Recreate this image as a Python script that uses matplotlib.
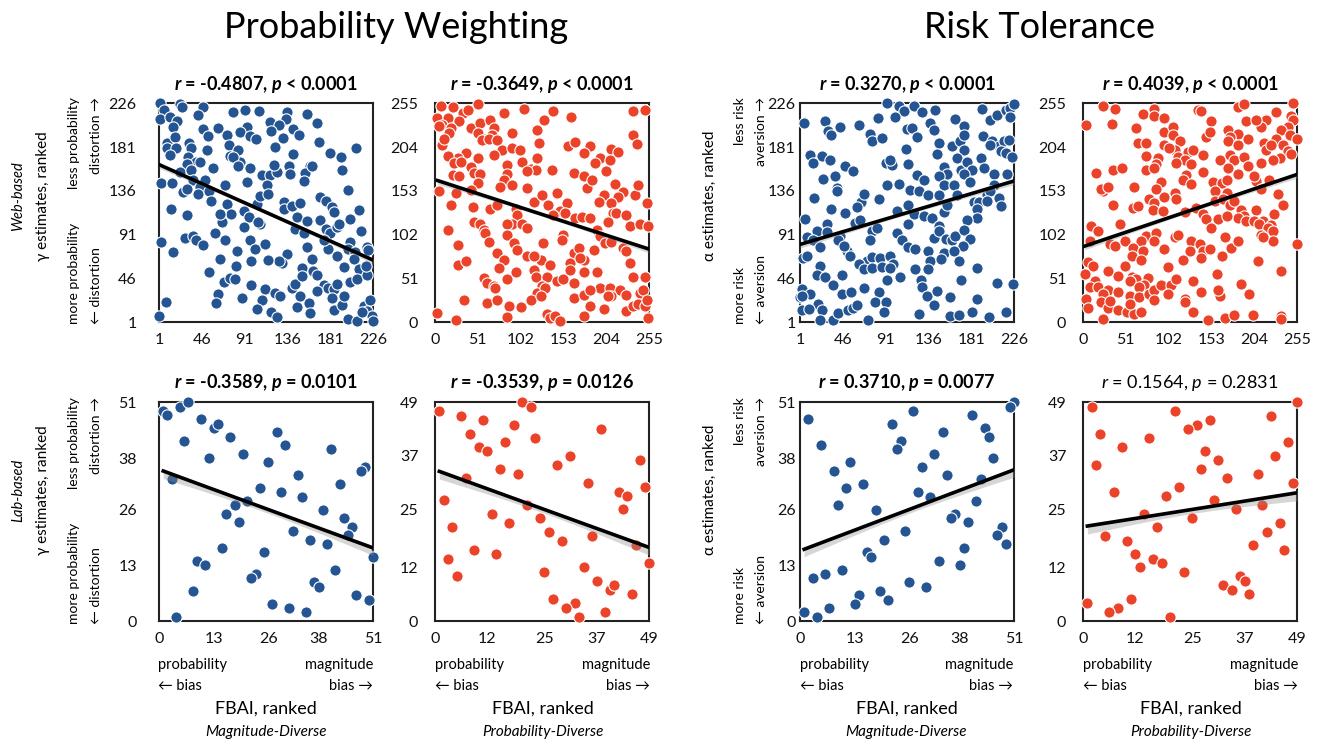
import numpy as np
import matplotlib
matplotlib.use("Agg")
import matplotlib.pyplot as plt

plt.rcParams["font.family"] = ["Lato", "DejaVu Sans"]
plt.rcParams["mathtext.fontset"] = "custom"
plt.rcParams["mathtext.rm"] = "Lato"
plt.rcParams["mathtext.it"] = "Lato:italic"
plt.rcParams["mathtext.bf"] = "Lato:bold"
try:
    plt.rcParams["mathtext.bfit"] = "Lato:bold:italic"
except KeyError:
    pass

BLUE = "#245592"
RED = "#ea4329"

# ranked data, (FBAI rank, estimate rank)
web_pw_mag = [(2,226),(6,219),(23,225),(25,222),(47,222),(42,214),(2,210),(12,212),(20,208),(16,202),(79,217),(91,219),(106,218),(135,217),(156,215),(167,206),(134,210),(118,207),(127,204),(119,198),(93,202),(86,197),(47,200),(63,201),(72,194),(52,192),(142,200),(148,193),(97,192),(103,189),(9,185),(18,191),(9,180),(19,180),(13,173),(32,185),(35,180),(31,171),(40,166),(44,166),(30,164),(51,178),(74,183),(76,172),(84,178),(86,166),(97,160),(79,171),(84,162),(123,181),(131,190),(142,174),(169,186),(181,175),(192,171),(208,180),(193,157),(160,162),(3,144),(15,144),(23,155),(35,157),(37,147),(26,135),(30,138),(44,140),(42,133),(58,160),(70,142),(93,145),(109,152),(118,152),(125,155),(122,163),(138,162),(139,153),(154,154),(153,146),(162,162),(200,137),(54,136),(49,147),(14,117),(30,111),(56,126),(72,123),(77,112),(67,104),(65,112),(90,115),(95,109),(104,123),(107,131),(114,142),(116,133),(132,125),(132,117),(141,120),(149,124),(170,130),(176,126),(183,119),(185,114),(146,109),(156,105),(170,106),(107,102),(105,104),(90,99),(202,107),(211,116),(3,83),(28,88),(37,90),(40,86),(47,80),(60,93),(70,85),(83,74),(97,86),(102,76),(112,81),(144,97),(153,93),(156,78),(176,97),(181,93),(188,99),(190,102),(202,83),(213,95),(178,76),(188,69),(200,76),(207,73),(220,78),(221,75),(135,71),(130,62),(127,64),(115,65),(98,64),(82,59),(65,66),(162,66),(174,86),(16,73),(54,53),(69,42),(76,46),(81,45),(98,39),(112,35),(123,31),(128,28),(141,36),(144,40),(151,57),(151,48),(163,54),(167,50),(174,39),(178,36),(185,35),(188,40),(195,58),(206,66),(211,56),(202,42),(209,45),(220,50),(218,59),(63,30),(61,21),(88,26),(109,24),(8,22),(1,7),(104,15),(119,11),(125,6),(146,17),(149,28),(159,21),(160,10),(167,33),(185,14),(193,19),(195,28),(199,4),(209,2),(216,18),(223,24),(220,12),(225,7),(226,2),(214,11),(183,26)]

web_pw_prob = [(7,252),(21,251),(33,244),(39,247),(51,254),(3,238),(15,238),(29,234),(9,230),(5,229),(19,226),(43,226),(54,232),(66,236),(70,226),(82,244),(106,248),(141,246),(130,236),(122,224),(162,239),(236,246),(250,247),(17,220),(9,207),(11,214),(51,220),(60,214),(68,218),(56,212),(64,213),(92,221),(74,212),(80,201),(92,203),(101,201),(70,195),(51,191),(37,197),(27,191),(15,194),(23,185),(31,187),(124,209),(122,191),(159,205),(167,210),(185,205),(177,197),(210,202),(218,198),(236,218),(240,208),(197,191),(191,185),(208,189),(21,172),(29,170),(43,181),(47,174),(54,173),(51,162),(86,183),(86,173),(82,166),(104,187),(114,179),(120,177),(110,176),(92,160),(78,158),(139,177),(165,174),(177,170),(181,156),(187,166),(204,176),(214,161),(238,148),(242,160),(224,152),(218,146),(201,148),(5,153),(25,150),(43,154),(110,156),(19,136),(45,134),(66,132),(74,137),(96,132),(98,125),(92,115),(104,114),(118,140),(127,148),(135,136),(145,150),(149,129),(157,139),(155,127),(167,121),(175,123),(185,121),(195,140),(210,139),(212,127),(206,117),(216,127),(228,125),(232,112),(244,115),(254,112),(252,139),(47,117),(54,114),(58,108),(86,114),(141,125),(15,107),(27,90),(60,104),(64,94),(86,102),(94,92),(98,84),(110,77),(110,110),(129,92),(126,73),(153,102),(151,96),(165,81),(171,86),(177,73),(189,84),(193,108),(197,100),(202,92),(210,94),(224,86),(228,83),(232,69),(236,53),(250,53),(27,67),(37,71),(74,81),(82,72),(118,77),(137,67),(161,69),(173,75),(76,63),(58,52),(62,46),(70,42),(72,40),(86,50),(96,58),(118,61),(120,53),(133,53),(145,48),(127,42),(153,50),(161,61),(165,46),(177,59),(193,59),(197,40),(208,40),(220,38),(228,32),(244,34),(248,38),(122,34),(131,40),(165,28),(177,32),(185,38),(210,30),(35,26),(62,22),(74,26),(88,19),(86,6),(102,18),(114,26),(126,30),(133,9),(137,5),(143,7),(149,1),(185,19),(177,7),(201,15),(206,30),(228,13),(236,19),(242,21),(250,19),(254,5),(3,11),(25,2),(252,26)]

web_rt_mag = [(92,226),(105,223),(110,218),(121,223),(129,217),(143,219),(101,212),(5,206),(27,208),(43,202),(63,204),(83,211),(113,200),(119,201),(138,206),(142,199),(164,210),(173,203),(192,220),(201,209),(208,214),(217,219),(222,221),(226,225),(222,212),(31,198),(34,194),(75,195),(77,187),(87,190),(124,191),(147,185),(161,182),(169,187),(173,194),(193,192),(203,187),(210,182),(215,187),(221,188),(112,179),(145,174),(173,178),(191,170),(201,183),(212,177),(217,175),(224,171),(12,173),(24,172),(33,168),(15,165),(48,162),(57,156),(91,165),(98,163),(96,168),(115,164),(152,161),(156,153),(166,170),(170,158),(177,166),(182,158),(194,160),(25,148),(38,151),(40,139),(40,136),(68,132),(92,142),(105,143),(124,152),(131,147),(147,151),(152,142),(163,142),(173,153),(180,145),(205,153),(219,153),(205,142),(117,137),(126,136),(136,132),(147,132),(166,132),(198,132),(201,136),(210,129),(16,129),(34,117),(48,113),(65,125),(61,119),(84,128),(103,115),(115,121),(121,112),(131,110),(140,108),(152,114),(156,122),(184,125),(189,125),(198,126),(212,120),(187,117),(187,108),(177,106),(147,100),(68,133),(6,107),(19,95),(29,102),(29,94),(59,103),(64,106),(43,90),(77,95),(82,98),(115,102),(8,89),(15,85),(22,78),(41,86),(75,85),(103,93),(108,85),(114,78),(122,76),(136,74),(142,88),(147,95),(154,87),(161,85),(164,90),(173,96),(180,87),(172,79),(152,72),(163,74),(4,67),(8,69),(50,74),(54,69),(47,79),(71,64),(77,68),(85,67),(96,69),(99,61),(138,64),(149,66),(168,64),(22,59),(19,49),(27,47),(45,49),(63,61),(68,56),(77,57),(87,58),(96,57),(92,44),(106,47),(122,56),(136,56),(128,44),(129,37),(135,28),(145,33),(159,27),(170,44),(187,57),(208,41),(225,40),(36,39),(45,30),(55,32),(68,36),(84,32),(3,35),(12,30),(1,27),(3,28),(20,20),(3,13),(10,15),(24,13),(36,3),(41,10),(52,13),(57,16),(61,19),(72,3),(80,22),(91,22),(89,11),(126,9),(142,19),(159,7),(168,8),(182,11),(187,25),(200,6),(217,11),(22,3)]

web_rt_prob = [(24,252),(38,248),(3,230),(34,231),(71,243),(85,248),(85,240),(97,238),(137,247),(141,246),(153,235),(185,251),(192,254),(230,245),(250,255),(248,240),(250,236),(218,236),(212,228),(194,234),(206,236),(63,226),(97,222),(107,228),(107,218),(173,224),(184,219),(244,228),(236,224),(246,218),(255,214),(147,216),(151,222),(175,216),(173,211),(196,213),(216,209),(230,214),(218,201),(224,207),(238,207),(244,199),(248,196),(234,191),(226,189),(65,209),(75,209),(97,207),(115,211),(109,201),(113,193),(125,198),(131,201),(121,189),(103,203),(75,194),(89,191),(87,184),(143,195),(163,189),(175,195),(184,207),(180,189),(192,193),(212,185),(16,174),(36,177),(46,180),(75,177),(85,180),(111,185),(129,184),(123,172),(119,166),(143,175),(155,163),(165,162),(171,166),(173,180),(184,173),(196,182),(206,164),(222,166),(212,155),(204,170),(129,161),(93,163),(157,153),(171,151),(24,153),(22,155),(30,158),(36,136),(61,157),(59,133),(65,135),(79,143),(85,139),(83,131),(95,129),(97,146),(109,150),(111,143),(87,155),(121,128),(135,133),(143,126),(157,141),(167,143),(175,137),(180,141),(188,131),(192,124),(206,131),(214,118),(228,126),(232,149),(238,137),(184,122),(194,118),(147,120),(161,120),(171,124),(204,118),(210,115),(224,113),(220,110),(226,106),(212,102),(44,114),(153,110),(10,112),(18,106),(8,95),(32,91),(38,89),(50,95),(75,100),(69,95),(87,104),(85,95),(109,99),(113,102),(129,95),(127,83),(139,91),(143,83),(141,75),(151,85),(119,73),(97,85),(165,77),(169,99),(176,87),(184,95),(226,95),(214,99),(255,91),(59,87),(71,83),(58,77),(69,73),(208,71),(236,60),(6,70),(12,66),(2,56),(14,48),(8,41),(18,41),(30,60),(42,54),(50,66),(58,53),(63,50),(77,52),(73,43),(56,48),(30,37),(42,35),(56,31),(67,41),(67,29),(79,33),(85,37),(93,43),(101,64),(105,43),(111,50),(101,33),(121,27),(131,48),(141,35),(159,56),(163,31),(161,37),(188,44),(198,33),(24,33),(4,27),(6,17),(22,23),(30,17),(32,25),(42,14),(52,12),(61,10),(69,12),(24,4),(85,26),(121,23),(131,12),(149,2),(169,5),(180,8),(202,8),(236,7),(236,4),(56,21)]

lab_pw_mag = [(1,49),(2,48),(5,50),(7,51),(10,47),(13,45),(14,46),(6,42),(17,43),(12,38),(20,39),(28,44),(30,41),(26,37),(41,40),(49,36),(48,35),(3,33),(33,34),(43,32),(24,31),(29,30),(34,29),(21,28),(18,27),(16,25),(19,23),(39,26),(44,24),(46,22),(45,20),(32,21),(36,19),(40,18),(51,15),(15,17),(25,16),(9,14),(11,13),(42,12),(23,11),(22,10),(37,9),(38,8),(8,7),(47,6),(50,5),(27,4),(31,3),(35,2),(4,1)]

lab_pw_prob = [(1,47),(6,46),(11,45),(20,49),(22,48),(18,44),(8,42),(23,41),(38,43),(16,40),(10,39),(12,38),(31,37),(28,35),(47,36),(15,34),(19,33),(7,32),(35,31),(48,30),(2,27),(42,29),(44,28),(43,25),(21,26),(13,24),(17,22),(24,23),(4,21),(26,20),(29,18),(36,19),(46,17),(9,16),(14,15),(3,14),(49,13),(5,10),(25,11),(34,12),(37,9),(40,7),(41,8),(45,6),(27,5),(32,4),(30,3),(39,2),(33,1)]

lab_rt_mag = [(51,51),(50,50),(2,47),(27,49),(41,48),(22,46),(44,45),(45,43),(34,44),(5,41),(24,42),(23,40),(32,39),(46,38),(12,37),(8,35),(29,36),(35,34),(43,33),(15,32),(11,31),(28,30),(31,29),(42,28),(9,27),(18,26),(37,25),(36,24),(40,23),(48,22),(47,20),(25,21),(49,18),(20,19),(39,17),(16,16),(17,15),(33,14),(38,13),(3,10),(6,11),(10,12),(26,9),(30,8),(14,6),(13,4),(19,7),(21,5),(7,3),(1,2),(4,1)]

lab_rt_prob = [(49,49),(2,48),(21,47),(43,46),(29,45),(26,44),(24,43),(4,42),(15,41),(47,40),(9,39),(28,38),(44,37),(31,36),(3,35),(27,34),(40,33),(33,32),(48,31),(22,30),(7,29),(19,28),(30,27),(41,26),(35,25),(14,24),(25,23),(45,22),(17,21),(42,20),(5,19),(10,18),(39,17),(46,16),(12,15),(16,14),(18,13),(13,12),(23,11),(36,10),(37,9),(32,8),(34,7),(38,6),(11,5),(1,4),(8,3),(6,2),(20,1)]

stats = [
    "$\\mathbfit{r}$ = -0.4807, $\\mathbfit{p}$ < 0.0001",
    "$\\mathbfit{r}$ = -0.3649, $\\mathbfit{p}$ < 0.0001",
    "$\\mathbfit{r}$ = 0.3270, $\\mathbfit{p}$ < 0.0001",
    "$\\mathbfit{r}$ = 0.4039, $\\mathbfit{p}$ < 0.0001",
    "$\\mathbfit{r}$ = -0.3589, $\\mathbfit{p}$ = 0.0101",
    "$\\mathbfit{r}$ = -0.3539, $\\mathbfit{p}$ = 0.0126",
    "$\\mathbfit{r}$ = 0.3710, $\\mathbfit{p}$ = 0.0077",
    "$\\mathit{r}$ = 0.1564, $\\mathit{p}$ = 0.2831",
]
ticks_226 = [1, 46, 91, 136, 181, 226]
ticks_255 = [0, 51, 102, 153, 204, 255]
ticks_51 = [0, 13, 26, 38, 51]
ticks_49 = [0, 12, 25, 37, 49]

# data, colour, ticks, (left, bottom), y tick label pad
panels = [
    (web_pw_mag, BLUE, ticks_226, (0.1203, 0.567), 16),
    (web_pw_prob, RED, ticks_255, (0.3290, 0.567), 12),
    (web_rt_mag, BLUE, ticks_226, (0.6051, 0.567), 3),
    (web_rt_prob, RED, ticks_255, (0.8192, 0.567), 12),
    (lab_pw_mag, BLUE, ticks_51, (0.1203, 0.1653), 16),
    (lab_pw_prob, RED, ticks_49, (0.3290, 0.1653), 12),
    (lab_rt_mag, BLUE, ticks_51, (0.6051, 0.1653), 3),
    (lab_rt_prob, RED, ticks_49, (0.8192, 0.1653), 12),
]

fig = plt.figure(figsize=(13.22, 7.44), dpi=100)

for i, (pts, col, ticks, (left, bottom), ypad) in enumerate(panels):
    ax = fig.add_axes([left, bottom, 0.162, 0.294])
    d = np.array(pts, dtype=float)
    x, y = d[:, 0], d[:, 1]
    ax.scatter(x, y, s=66, color=col, edgecolor="white", linewidth=0.8,
               zorder=3, clip_on=False)

    # least-squares fit, thin shaded band like the original
    b1, b0 = np.polyfit(x, y, 1)
    xs = np.linspace(x.min(), x.max(), 100)
    ys = b0 + b1 * xs
    n = len(x)
    resid = y - (b0 + b1 * x)
    s = np.sqrt(np.sum(resid ** 2) / (n - 2))
    se = s * np.sqrt(1 / n + (xs - x.mean()) ** 2 / np.sum((x - x.mean()) ** 2))
    ax.fill_between(xs, ys - 0.45 * se, ys + 0.15 * se, color="#8c8c8c",
                    alpha=0.35, linewidth=0, zorder=4)
    ax.plot(xs, ys, color="black", linewidth=2.6, zorder=5)

    ax.set_xlim(ticks[0], ticks[-1])
    ax.set_ylim(ticks[0], ticks[-1])
    ax.set_xticks(ticks)
    ax.set_yticks(ticks)
    ax.tick_params(length=0, labelsize=11.5, colors="#111111")
    ax.tick_params(axis="y", pad=ypad)
    ax.tick_params(axis="x", pad=8)
    for sp in ax.spines.values():
        sp.set_linewidth(1.5)
        sp.set_color("#222222")
    weight = "normal" if i == 7 else "bold"
    ax.set_title(stats[i], fontsize=13, fontweight=weight, pad=10)


def fx(px):
    return px / 1322


def fy(py):
    return 1 - py / 744


# section titles
fig.text(fx(396), fy(28), "Probability Weighting", fontsize=26, ha="center", va="center")
fig.text(fx(1040), fy(28), "Risk Tolerance", fontsize=26, ha="center", va="center")

# row labels and direction hints
rows = [("Web-based", 196, 97, 324), ("Lab-based", 490, 397, 624)]
for lab, yc, ytop, ybot in rows:
    fig.text(fx(18), fy(yc), lab, fontsize=10.5, style="italic", rotation=90,
             ha="center", va="center")
    fig.text(fx(43), fy(yc), "γ estimates, ranked", fontsize=11, rotation=90,
             ha="center", va="center")
    fig.text(fx(74), fy(ytop), "less probability", fontsize=10, rotation=90, ha="center", va="top")
    fig.text(fx(96), fy(ytop), "distortion →", fontsize=10, rotation=90, ha="center", va="top")
    fig.text(fx(74), fy(ybot), "more probability", fontsize=10, rotation=90, ha="center", va="bottom")
    fig.text(fx(96), fy(ybot), "← distortion", fontsize=10, rotation=90, ha="center", va="bottom")

    fig.text(fx(710), fy(yc), "α estimates, ranked", fontsize=11, rotation=90,
             ha="center", va="center")
    fig.text(fx(740), fy(ytop), "less risk", fontsize=10, rotation=90, ha="center", va="top")
    fig.text(fx(761), fy(ytop), "aversion →", fontsize=10, rotation=90, ha="center", va="top")
    fig.text(fx(740), fy(ybot), "more risk", fontsize=10, rotation=90, ha="center", va="bottom")
    fig.text(fx(761), fy(ybot), "← aversion", fontsize=10, rotation=90, ha="center", va="bottom")

# x-axis labels under the bottom row
cols = [(158, 373, "Magnitude-Diverse"), (435, 650, "Probability-Diverse"),
        (800, 1013, "Magnitude-Diverse"), (1083, 1298, "Probability-Diverse")]
for x0, x1, task in cols:
    fig.text(fx(x0), fy(665), "probability", fontsize=10.5, ha="left", va="center")
    fig.text(fx(x0), fy(686), "← bias", fontsize=10.5, ha="left", va="center")
    fig.text(fx(x1), fy(665), "magnitude", fontsize=10.5, ha="right", va="center")
    fig.text(fx(x1), fy(686), "bias →", fontsize=10.5, ha="right", va="center")
    fig.text(fx((x0 + x1) / 2), fy(709), "FBAI, ranked", fontsize=13, ha="center", va="center")
    fig.text(fx((x0 + x1) / 2), fy(732), task, fontsize=11, style="italic",
             ha="center", va="center")

fig.savefig("out.png", dpi=100)
